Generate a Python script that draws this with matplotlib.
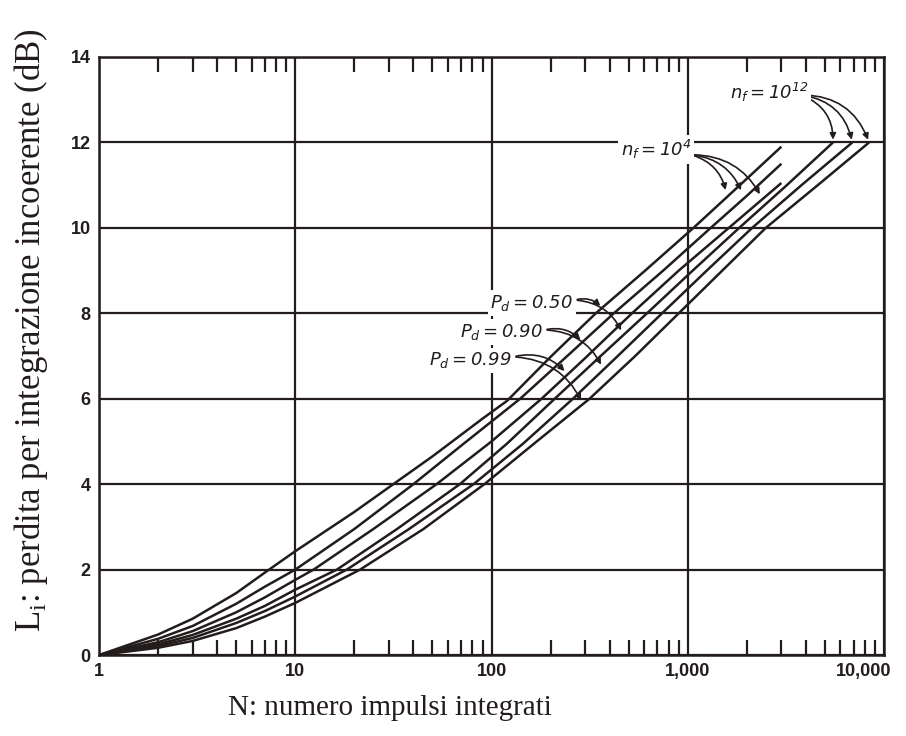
import matplotlib
matplotlib.use("Agg")
import matplotlib.pyplot as plt
from matplotlib.ticker import FixedLocator, NullFormatter
from matplotlib.transforms import ScaledTranslation

# ---- data: (N, loss dB) per curve ----
# n_f = 1e4
n_4_050 = [1, 2, 3, 5, 7, 10, 20, 31.6, 50, 91, 120, 200, 340, 600, 1070, 2000, 3000]
l_4_050 = [0, 0.48, 0.85, 1.45, 1.93, 2.43, 3.35, 4.0, 4.65, 5.55, 5.95, 6.98, 8.0, 8.98, 10.0, 11.15, 11.9]
n_4_090 = [1, 2, 3, 5, 7, 10, 20, 40, 70, 140, 250, 420, 750, 1310, 2000, 3000]
l_4_090 = [0, 0.38, 0.68, 1.2, 1.6, 2.0, 2.95, 4.0, 4.9, 6.0, 7.05, 8.0, 9.0, 10.0, 10.75, 11.5]
n_4_099 = [1, 2, 3, 5, 7, 10, 12.4, 25, 52.5, 100, 180, 300, 520, 900, 1620, 3000]
l_4_099 = [0, 0.3, 0.56, 1.0, 1.35, 1.76, 2.0, 2.95, 4.0, 5.0, 6.0, 6.95, 8.0, 9.0, 10.0, 11.05]
# n_f = 1e12
n_12_050 = [1, 2, 3, 5, 7, 10, 16.3, 33, 69, 120, 210, 360, 620, 1060, 1830, 3200, 5500]
l_12_050 = [0, 0.25, 0.47, 0.85, 1.15, 1.53, 2.0, 2.95, 4.0, 4.95, 6.0, 7.0, 8.0, 9.0, 10.0, 11.0, 12.0]
n_12_090 = [1, 2, 3, 5, 7, 10, 18.3, 38, 81, 145, 260, 440, 740, 1250, 2130, 3800, 6900]
l_12_090 = [0, 0.21, 0.4, 0.75, 1.03, 1.37, 2.0, 2.95, 4.0, 4.95, 6.0, 7.0, 8.0, 9.0, 10.0, 11.0, 12.0]
n_12_099 = [1, 2, 3, 5, 7, 10, 21.4, 45, 92, 170, 316, 540, 900, 1500, 2500, 4600, 8400]
l_12_099 = [0, 0.17, 0.33, 0.63, 0.9, 1.22, 2.0, 2.95, 4.0, 5.0, 6.0, 7.0, 8.0, 9.0, 10.0, 11.0, 12.0]

x_ticks = [1, 10, 100, 1000, 10000]
x_labels = ["1", "10", "100", "1,000", "10,000"]
y_ticks = [0, 2, 4, 6, 8, 10, 12, 14]

ink = "#231c1c"
plt.rcParams["mathtext.fontset"] = "custom"
plt.rcParams["mathtext.rm"] = "DejaVu Sans:italic"
plt.rcParams["mathtext.it"] = "DejaVu Sans:italic"

fig = plt.figure(figsize=(9.06, 7.36), dpi=100)
ax = fig.add_axes([0.1093, 0.110, 0.8664, 0.8126])
ax.set_xscale("log")
ax.set_xlim(1, 10000)
ax.set_ylim(0, 14)

curves = [(n_4_050, l_4_050), (n_4_090, l_4_090), (n_4_099, l_4_099),
          (n_12_050, l_12_050), (n_12_090, l_12_090), (n_12_099, l_12_099)]
for n, l in curves:
    ax.plot(n, l, color=ink, lw=1.8, zorder=3, solid_capstyle="butt",
            solid_joinstyle="round")

ax.xaxis.set_major_locator(FixedLocator(x_ticks))
ax.set_xticklabels(x_labels)
minors = [m * 10 ** d for d in range(4) for m in range(2, 10)]
ax.xaxis.set_minor_locator(FixedLocator(minors))
ax.xaxis.set_minor_formatter(NullFormatter())
ax.set_yticks(y_ticks)
ax.tick_params(axis="both", which="major", length=0, labelsize=13, colors=ink, pad=6)
ax.tick_params(axis="x", which="minor", direction="in", top=True, bottom=True,
               length=11, width=1.6, color=ink)
for lab in ax.get_xticklabels() + ax.get_yticklabels():
    lab.set_fontfamily("Liberation Sans")
    lab.set_fontweight("bold")
last = ax.get_xticklabels()[-1]
last.set_transform(last.get_transform() + ScaledTranslation(-0.2, 0, fig.dpi_scale_trans))
ax.grid(True, which="major", color=ink, lw=1.6, zorder=1)
for s in ax.spines.values():
    s.set_color(ink)
    s.set_linewidth(1.8)

fig.text(31 / 906, 0.552, "L$_\\mathregular{i}$: perdita per integrazione incoerente (dB)",
         rotation=90, ha="center", va="center", fontsize=25,
         family="Liberation Serif", color=ink)
fig.text(390 / 906, 0.038, "N: numero impulsi integrati", ha="center", va="center",
         fontsize=21, family="Liberation Serif", color=ink)

bb = dict(boxstyle="square,pad=0.15", fc="white", ec="none")
tfont = dict(fontsize=13, color=ink, zorder=5)
ap = dict(arrowstyle="-|>", color=ink, lw=1.2, mutation_scale=9,
          connectionstyle="arc3,rad=-0.3")

def label(x, y, s):
    ax.text(x, y, s, ha="center", va="center", bbox=bb, **tfont)

def arrows(src, targets, rad=-0.3):
    for t in targets:
        ax.annotate("", xy=t, xytext=src, zorder=4,
                    arrowprops=dict(ap, connectionstyle="arc3,rad=%s" % rad))

label(2600, 13.18, "$n_f = 10^{12}$")
arrows((3780, 13.11), [(n[-1], l[-1]) for n, l in curves[3:]], rad=-0.35)

label(692, 11.83, "$n_f = 10^4$")
arrows((1042, 11.71), [(1570, 10.82), (1893, 10.82), (2367, 10.73)], rad=-0.3)

label(160, 8.24, "$P_d = 0.50$")
label(112, 7.56, "$P_d = 0.90$")
label(78, 6.9, "$P_d = 0.99$")
arrows((265, 8.31), [(367, 8.13), (464, 7.54)])
arrows((186, 7.61), [(290, 7.33), (367, 6.74)])
arrows((129, 6.98), [(241, 6.6), (290, 5.9)])

fig.savefig("out.png", dpi=100)
